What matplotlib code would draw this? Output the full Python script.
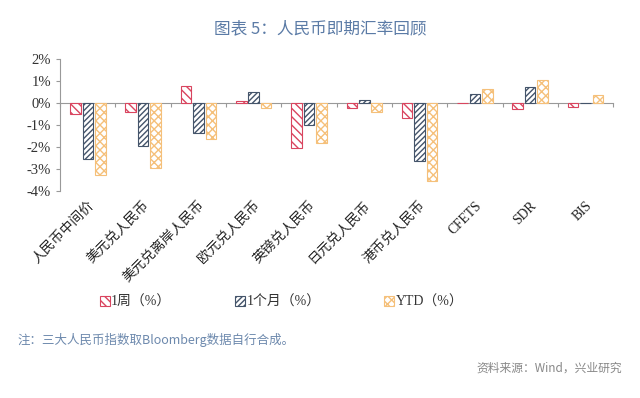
import matplotlib
matplotlib.use("Agg")
import matplotlib.pyplot as plt
import numpy as np
from matplotlib.patches import Patch

categories = ["人民币中间价", "美元兑人民币", "美元兑离岸人民币", "欧元兑人民币", "英镑兑人民币",
              "日元兑人民币", "港币兑人民币", "CFETS", "SDR", "BIS"]
week = [-0.49, -0.40, 0.78, 0.10, -2.08, -0.23, -0.67, -0.03, -0.30, -0.21]
month = [-2.55, -1.98, -1.36, 0.49, -1.00, 0.15, -2.63, 0.40, 0.70, 0.01]
ytd = [-3.27, -2.96, -1.65, -0.24, -1.83, -0.40, -3.57, 0.63, 1.02, 0.35]
series_names = ["1周（%）", "1个月（%）", "YTD（%）"]
yticks = [2, 1, 0, -1, -2, -3, -4]

plt.rcParams['hatch.linewidth'] = 1.0
serif = ['Liberation Serif', 'Noto Sans CJK SC']
cjk = ['Noto Sans CJK SC', 'DejaVu Sans']

fig = plt.figure(figsize=(6.4, 3.98), dpi=100)
ax = fig.add_axes([0.094, 0.521, 0.864, 0.331])

x = np.arange(len(categories))
w = 0.19
off = 0.225
styles = [("#d9455f", "\\\\\\\\"), ("#44546a", "//////"), ("#f5c07a", "xxxx")]
for i, (vals, (col, hat)) in enumerate(zip([week, month, ytd], styles)):
    ax.bar(x + (i - 1) * off, vals, width=w, facecolor="white", edgecolor=col,
           hatch=hat, linewidth=0.8)

ax.set_xlim(-0.5, len(categories) - 0.5)
ax.set_ylim(-4, 2)
ax.set_yticks(yticks)
ax.set_yticklabels([f"{v}%" for v in yticks], family=serif, fontsize=10.5, color="#333333")
ax.tick_params(axis='y', length=3, color="#999999", width=0.8)
for s in ["top", "right", "bottom"]:
    ax.spines[s].set_visible(False)
ax.spines["left"].set_color("#999999")
ax.spines["left"].set_linewidth(0.8)

ax.set_xticks(x)
ax.set_xticklabels(categories, rotation=45, ha="right", rotation_mode="anchor",
                   family=serif, fontsize=9.8, color="#222222")
ax.tick_params(axis='x', length=0, pad=6)

sec = ax.secondary_xaxis(0, transform=ax.transData)
sec.set_xticks(np.arange(len(categories) + 1) - 0.5)
sec.set_xticklabels([])
sec.tick_params(axis='x', length=3, color="#999999", width=0.8, direction='out')
sec.spines['bottom'].set_color("#999999")
sec.spines['bottom'].set_linewidth(0.8)

handles = [Patch(facecolor="white", edgecolor=c, hatch=h, linewidth=0.8) for c, h in styles]
leg = fig.legend(handles, series_names, loc="center", bbox_to_anchor=(0.44, 0.241), ncol=3,
                 frameon=False, handlelength=0.7, handleheight=0.7, handletextpad=0.1,
                 columnspacing=4.6, prop={'family': serif, 'size': 10})
for t in leg.get_texts():
    t.set_color("#333333")

fig.text(0.5, 0.928, "图表 5：人民币即期汇率回顾", ha="center", va="center",
         family=cjk, fontsize=12, color="#5b7ba6")
fig.text(0.028, 0.146, "注：三大人民币指数取Bloomberg数据自行合成。", ha="left", va="center",
         family=cjk, fontsize=9, color="#6d89ad")
fig.text(0.972, 0.075, "资料来源：Wind，兴业研究", ha="right", va="center",
         family=cjk, fontsize=8.5, color="#888888")

fig.savefig("out.png", dpi=100)
